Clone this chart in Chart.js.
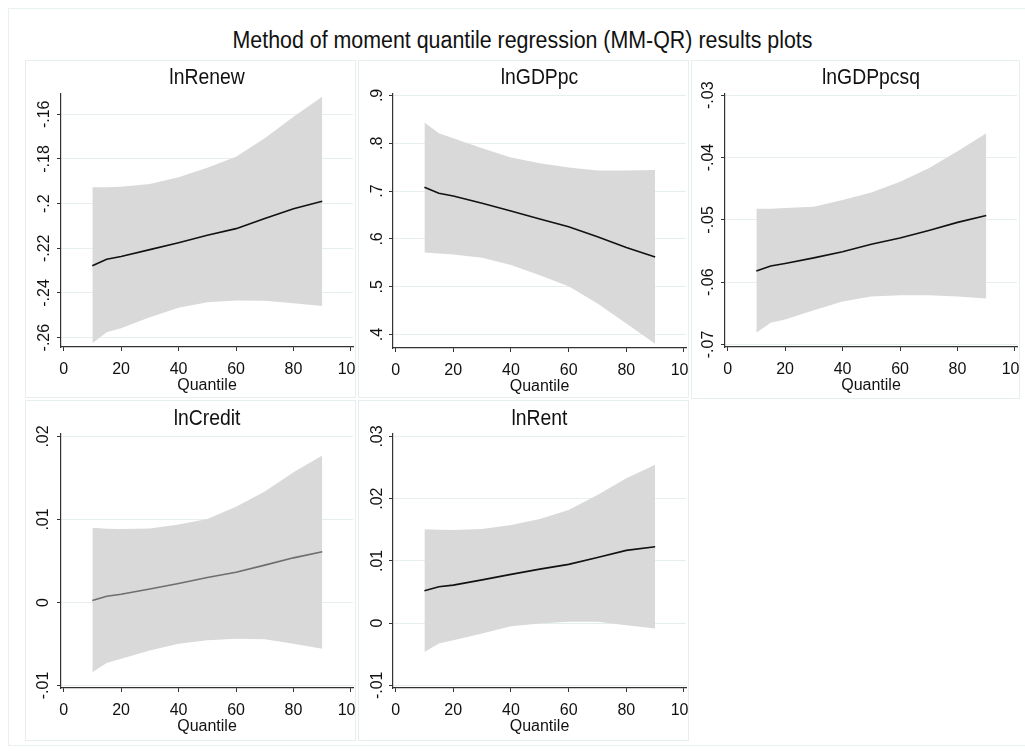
<!DOCTYPE html>
<html><head><meta charset="utf-8">
<script src="https://cdn.jsdelivr.net/npm/chart.js@4.4.1/dist/chart.umd.min.js"></script>
<style>
html,body{margin:0;padding:0;background:#fff;}
body{width:1025px;height:751px;position:relative;overflow:hidden;font-family:'Liberation Sans',Arial,sans-serif;}
.box{position:absolute;border:1px solid #e6eef0;box-sizing:border-box;}
canvas{position:absolute;}
.ttl{position:absolute;text-align:center;color:#111;white-space:nowrap;line-height:1;transform-origin:50% 50%;}
</style></head><body>
<div class="box" style="left:8px;top:8px;width:1040px;height:738px;border-color:#e9f0f2"></div>
<div class="ttl" style="left:10px;width:1025px;top:29px;font-size:23.5px;transform:scaleX(0.91);">Method of moment quantile regression (MM-QR) results plots</div>
<div id="root"></div>
<script>
// ---- data ----
const quantiles = [10, 15, 20, 30, 40, 50, 60, 70, 80, 90];
const xTicks = [0, 20, 40, 60, 80, 100];
const xTickLabels = ['0', '20', '40', '60', '80', '100'];

const renewCoef  = [-0.2278, -0.2249, -0.2237, -0.2206, -0.2175, -0.2142, -0.2112, -0.2067, -0.2023, -0.1989];
const renewUpper = [-0.1927, -0.1927, -0.1924, -0.1912, -0.1882, -0.1839, -0.1790, -0.1707, -0.1611, -0.1521];
const renewLower = [-0.2625, -0.2576, -0.2558, -0.2509, -0.2466, -0.2442, -0.2434, -0.2435, -0.2446, -0.2458];
const renewTicks = [-0.26, -0.24, -0.22, -0.20, -0.18, -0.16];
const renewTickLabels = ['-.26', '-.24', '-.22', '-.2', '-.18', '-.16'];

const gdpCoef  = [0.7080, 0.6954, 0.6898, 0.6745, 0.6584, 0.6416, 0.6256, 0.6046, 0.5823, 0.5620];
const gdpUpper = [0.8434, 0.8211, 0.8106, 0.7897, 0.7701, 0.7582, 0.7492, 0.7429, 0.7429, 0.7443];
const gdpLower = [0.5718, 0.5697, 0.5676, 0.5606, 0.5453, 0.5243, 0.5013, 0.4649, 0.4230, 0.3811];
const gdpTicks = [0.4, 0.5, 0.6, 0.7, 0.8, 0.9];
const gdpTickLabels = ['.4', '.5', '.6', '.7', '.8', '.9'];

const gdpsqCoef  = [-0.0582, -0.0574, -0.0570, -0.0561, -0.0551, -0.0539, -0.0529, -0.0517, -0.0504, -0.0493];
const gdpsqUpper = [-0.0482, -0.0482, -0.0481, -0.0479, -0.0468, -0.0456, -0.0439, -0.0417, -0.0390, -0.0361];
const gdpsqLower = [-0.0681, -0.0665, -0.0660, -0.0645, -0.0631, -0.0623, -0.0621, -0.0621, -0.0623, -0.0626];
const gdpsqTicks = [-0.07, -0.06, -0.05, -0.04, -0.03];
const gdpsqTickLabels = ['-.07', '-.06', '-.05', '-.04', '-.03'];

const creditCoef  = [0.00023, 0.00075, 0.00099, 0.00162, 0.00228, 0.00301, 0.00365, 0.00450, 0.00538, 0.00611];
const creditUpper = [0.00900, 0.00890, 0.00885, 0.00893, 0.00940, 0.01005, 0.01154, 0.01336, 0.01569, 0.01770];
const creditLower = [-0.00839, -0.00730, -0.00678, -0.00577, -0.00497, -0.00456, -0.00436, -0.00444, -0.00497, -0.00557];
const creditTicks = [-0.01, 0, 0.01, 0.02];
const creditTickLabels = ['-.01', '0', '.01', '.02'];

const rentCoef  = [0.00520, 0.00584, 0.00611, 0.00695, 0.00783, 0.00868, 0.00944, 0.01056, 0.01169, 0.01228];
const rentUpper = [0.01507, 0.01502, 0.01497, 0.01513, 0.01577, 0.01674, 0.01819, 0.02060, 0.02329, 0.02544];
const rentLower = [-0.00463, -0.00329, -0.00275, -0.00168, -0.00050, -0.00007, 0.00020, 0.00020, -0.00034, -0.00087];
const rentTicks = [-0.01, 0, 0.01, 0.02, 0.03];
const rentTickLabels = ['-.01', '0', '.01', '.02', '.03'];

// ---- panel layout (positions / styles only) ----
const panels = [
  {title:'lnRenew',   coef:renewCoef,  up:renewUpper,  lo:renewLower,  ticks:renewTicks,  labels:renewTickLabels,
   x:25, y:60, w:331, h:338, yW:36, padTop:34, bottom:51, ymin:-0.2642, ymax:-0.1509, lblPad:-1, line:'#111', ttlBase:85},
  {title:'lnGDPpc',   coef:gdpCoef,    up:gdpUpper,    lo:gdpLower,    ticks:gdpTicks,    labels:gdpTickLabels,
   x:358, y:60, w:331, h:338, yW:35, padTop:34, bottom:50, ymin:0.372, ymax:0.903, lblPad:5, line:'#111', ttlBase:85},
  {title:'lnGDPpcsq', coef:gdpsqCoef,  up:gdpsqUpper,  lo:gdpsqLower,  ticks:gdpsqTicks,  labels:gdpsqTickLabels,
   x:691, y:60, w:329, h:339, yW:34, padTop:34, bottom:52, ymin:-0.0704, ymax:-0.0298, lblPad:-1, line:'#111', ttlBase:85},
  {title:'lnCredit',  coef:creditCoef, up:creditUpper, lo:creditLower, ticks:creditTicks, labels:creditTickLabels,
   x:25, y:400, w:331, h:341, yW:36, padTop:34, bottom:53, ymin:-0.0103, ymax:0.0203, lblPad:0, line:'#6e6e6e', ttlBase:426.5},
  {title:'lnRent',    coef:rentCoef,   up:rentUpper,   lo:rentLower,   ticks:rentTicks,   labels:rentTickLabels,
   x:358, y:400, w:331, h:341, yW:35, padTop:34, bottom:53, ymin:-0.01043, ymax:0.0304, lblPad:-2, line:'#111', ttlBase:426.5}
];

const FONT = "'Liberation Sans', Arial, sans-serif";
const root = document.getElementById('root');
const pts = arr => quantiles.map((q, i) => ({x: q, y: arr[i]}));
const noPad = s => { s.paddingLeft = 0; s.paddingRight = 0; s.paddingTop = 0; s.paddingBottom = 0; };

panels.forEach(p => {
  const box = document.createElement('div');
  box.className = 'box';
  Object.assign(box.style, {left:p.x+'px', top:p.y+'px', width:p.w+'px', height:p.h+'px'});
  root.appendChild(box);

  const cv = document.createElement('canvas');
  cv.width = p.w; cv.height = p.h;
  Object.assign(cv.style, {left:p.x+'px', top:p.y+'px', width:p.w+'px', height:p.h+'px'});
  root.appendChild(cv);

  const rightPad = 3;
  const chartL = p.x + p.yW, chartR = p.x + p.w - rightPad;
  const t = document.createElement('div');
  t.className = 'ttl';
  t.textContent = p.title;
  const fs = 21.5;
  Object.assign(t.style, {left:chartL+'px', width:(chartR-chartL)+'px', top:(p.ttlBase - 0.8465*fs)+'px',
    fontSize:fs+'px', transform:'scaleX(0.9)'});
  root.appendChild(t);

  const xH = 48;
  new Chart(cv, {
    type: 'line',
    data: {
      datasets: [
        {data: pts(p.coef), borderColor: p.line, borderWidth: 1.6, pointRadius: 0, tension: 0, fill: false},
        {data: pts(p.up), borderWidth: 0, borderColor: 'rgba(0,0,0,0)', pointRadius: 0, tension: 0,
         fill: '+1', backgroundColor: '#d9d9d9'},
        {data: pts(p.lo), borderWidth: 0, borderColor: 'rgba(0,0,0,0)', pointRadius: 0, tension: 0, fill: false}
      ]
    },
    options: {
      responsive: false, animation: false, devicePixelRatio: 1,
      layout: {autoPadding: false, padding: {left: 0, right: rightPad, top: p.padTop, bottom: p.bottom - xH}},
      plugins: {legend: {display: false}, tooltip: {enabled: false}, title: {display: false}},
      events: [],
      scales: {
        x: {
          type: 'linear', min: -0.9, max: 100.7,
          afterBuildTicks: s => { s.ticks = xTicks.map(v => ({value: v})); },
          afterFit: s => { s.height = xH; noPad(s); },
          ticks: {autoSkip: false, maxRotation: 0, minRotation: 0, padding: 9, color: '#111',
                  font: {family: FONT, size: 16}, callback: (v, i) => xTickLabels[i]},
          grid: {drawOnChartArea: false, drawTicks: true, tickLength: 4, tickColor: '#333', lineWidth: 1},
          border: {display: true, color: '#333', width: 1.2},
          title: {display: true, text: 'Quantile', color: '#111', font: {family: FONT, size: 16}, padding: {top: 0, bottom: 0}}
        },
        y: {
          type: 'linear', min: p.ymin, max: p.ymax,
          afterBuildTicks: s => { s.ticks = p.ticks.map(v => ({value: v})); },
          afterFit: s => { s.width = p.yW; noPad(s); },
          ticks: {autoSkip: false, minRotation: 90, maxRotation: 90, crossAlign: 'center', padding: p.lblPad,
                  color: '#111', font: {family: FONT, size: 16}, callback: (v, i) => p.labels[i]},
          grid: {drawOnChartArea: true, color: '#e6eef0', lineWidth: 1, drawTicks: true, tickLength: 4, tickColor: '#333'},
          border: {display: true, color: '#333', width: 1.2}
        }
      }
    }
  });
});
</script>
</body></html>
